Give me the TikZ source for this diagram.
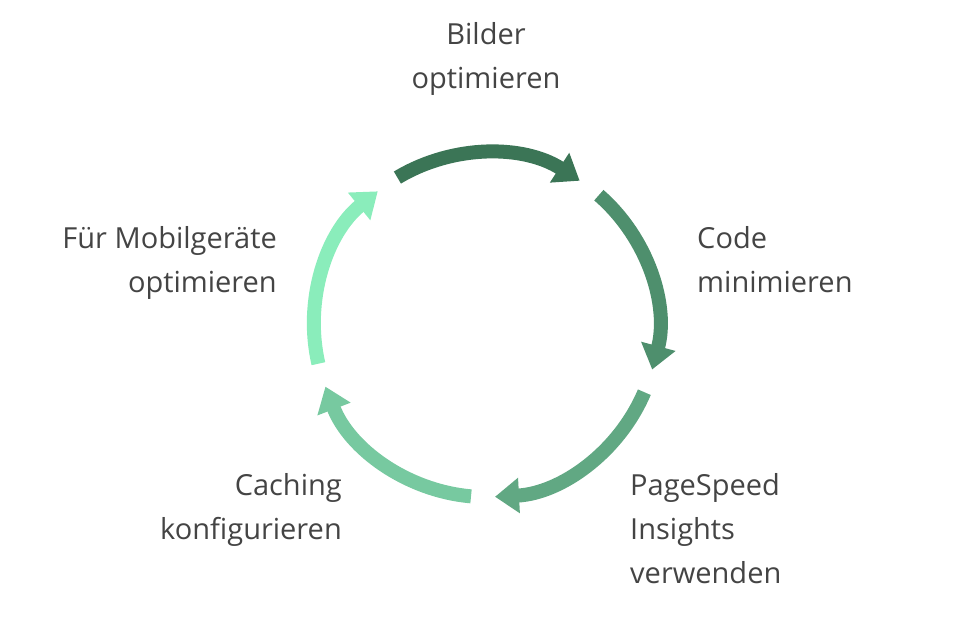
\documentclass[tikz,border=0pt]{standalone}
\usepackage{fontspec}
\setmainfont{Open Sans}
\usetikzlibrary{arrows.meta,calc}
\definecolor{c1}{HTML}{3B7556}
\definecolor{c2}{HTML}{4E8F6D}
\definecolor{c3}{HTML}{61A883}
\definecolor{c4}{HTML}{77C9A0}
\definecolor{c5}{HTML}{8AEDBB}
\definecolor{tx}{HTML}{444444}
\tikzset{seg/.style={line width=14pt,-{Triangle[width=34pt,length=24pt]}},
lbl/.style={font=\fontsize{29}{44}\selectfont,text=tx,inner sep=0pt}}
\begin{document}
\begin{tikzpicture}[x=1pt,y=1pt]
\useasboundingbox (0,0) rectangle (972,627);
\coordinate (c) at (486,302);
\foreach \s/\col in {121/c1,49/c2,-23/c3,-95/c4,-167/c5}{
 \draw[seg,\col] ($(c)+(\s:172)$) arc[start angle=\s,end angle=\s-64,radius=172];
}
\node[lbl,align=center,anchor=north] (t1) at (486,627-22) {Bilder\\optimieren};
\node[lbl,align=left,anchor=north west] (t2) at (697,627-226) {Code\\minimieren};
\node[lbl,align=left,anchor=north west] (t3) at (630,627-473) {PageSpeed\\Insights\\verwenden};
\node[lbl,align=right,anchor=north east] (t4) at (342,627-473) {Caching\\konfigurieren};
\node[lbl,align=right,anchor=north east] (t5) at (277,627-226) {Für Mobilgeräte\\optimieren};
\end{tikzpicture}
\end{document}
